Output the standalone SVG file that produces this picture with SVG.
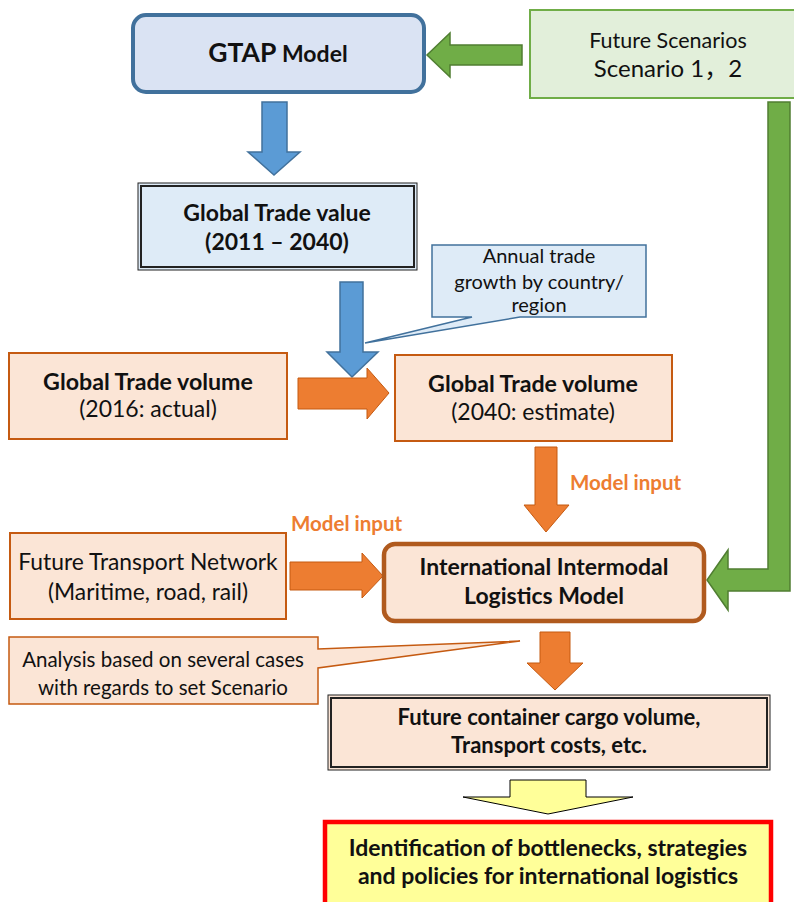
<svg xmlns="http://www.w3.org/2000/svg" width="794" height="902" viewBox="0 0 794 902">
<style>
text{font-family:Lato,"Open Sans","Liberation Sans","Noto Sans CJK JP",sans-serif;fill:#111;text-anchor:middle}
.b{font-weight:bold}
.blue{fill:#5B9BD5;stroke:#41719C;stroke-width:1.5}
.orange{fill:#ED7D31;stroke:#C55A11;stroke-width:1}
.green{fill:#70AD47;stroke:#507E32;stroke-width:1.5}
.peach{fill:#FBE5D6;stroke:#C55A11;stroke-width:2}
.lbl{fill:#ED7D31;font-weight:bold;font-size:20.5px;text-anchor:start}
</style>
<rect width="794" height="902" fill="#fff"/>

<g id="connectors">
  <path class="green" d="M522,45 L450,45 L450,33 L427,55 L450,77 L450,65 L522,65 Z"/>
  <path class="green" d="M768,102 L790,102 L790,591 L728,591 L728,610 L707,580 L728,550 L728,569 L768,569 Z"/>
  <path class="blue" d="M262,102 L287,102 L287,152 L300,152 L274,175 L248,152 L262,152 Z"/>
  <path class="blue" d="M340,282 L363,282 L363,352 L378,352 L352,377 L327,352 L340,352 Z"/>
  <path class="orange" d="M298,378 L367,378 L367,368 L389,393 L367,419 L367,409 L298,409 Z"/>
  <path class="orange" d="M535,447 L557,447 L557,505 L569,505 L546,532 L524,505 L535,505 Z"/>
  <path class="orange" d="M290,562 L362,562 L362,553 L383,576 L362,598 L362,590 L290,590 Z"/>
  <path class="orange" d="M540,632 L570,632 L570,663 L583,663 L555,690 L527,663 L540,663 Z"/>
  <path d="M510,780 L586,780 L586,797 L633,797 L548,814 L463,797 L510,797 Z" fill="#FFFF99" stroke="#000" stroke-width="1"/>
  <text class="lbl" x="570" y="490">Model input</text>
  <text class="lbl" x="291" y="531">Model input</text>
</g>

<g id="gtap">
  <rect x="133" y="15" width="291" height="77" rx="13" fill="#DAE3F3" stroke="#41719C" stroke-width="4"/>
  <text x="278" y="62" class="b"><tspan font-size="26.5">GTAP</tspan><tspan font-size="23"> Model</tspan></text>
</g>

<g id="future-scenarios">
  <rect x="530" y="10" width="266" height="88" fill="#E2EFDA" stroke="#70AD47" stroke-width="2"/>
  <text x="668" y="48" font-size="21.5">Future Scenarios</text>
  <text x="668" y="77" font-size="24">Scenario 1，2</text>
</g>

<g id="trade-value">
  <rect x="138" y="183" width="279" height="87" fill="#DEEBF7" stroke="#222" stroke-width="1"/>
  <rect x="141" y="186" width="273" height="81" fill="none" stroke="#222" stroke-width="2"/>
  <text x="277" y="221" font-size="23" class="b">Global Trade value</text>
  <text x="277" y="250" font-size="23" class="b">(2011 – 2040)</text>
</g>

<g id="annual-callout">
  <path d="M432,245 L646,245 L646,317 L520,317 L365,343 L472,317 L432,317 Z" fill="#DEEBF7" stroke="#41719C" stroke-width="1.5"/>
  <text x="539" y="263" font-size="20">Annual trade</text>
  <text x="539" y="289" font-size="20">growth by country/</text>
  <text x="539" y="312" font-size="20">region</text>
</g>

<g id="volume-2016">
  <rect class="peach" x="9" y="353" width="278" height="86"/>
  <text x="148" y="390" font-size="23.2" class="b">Global Trade volume</text>
  <text x="148" y="417" font-size="23">(2016: actual)</text>
</g>

<g id="volume-2040">
  <rect class="peach" x="395" y="355" width="277" height="86"/>
  <text x="533" y="392" font-size="23.2" class="b">Global Trade volume</text>
  <text x="533" y="420" font-size="23">(2040: estimate)</text>
</g>

<g id="transport-network">
  <rect class="peach" x="10" y="533" width="276" height="86"/>
  <text x="148" y="570" font-size="22.8">Future Transport Network</text>
  <text x="148" y="600" font-size="22.8">(Maritime, road, rail)</text>
</g>

<g id="logistics-model">
  <rect x="384" y="544" width="320" height="77" rx="11" fill="#FBE5D6" stroke="#B05A1E" stroke-width="4.5"/>
  <text x="544" y="575" font-size="23" class="b">International Intermodal</text>
  <text x="544" y="604" font-size="23" class="b">Logistics Model</text>
</g>

<g id="analysis-callout">
  <path d="M9,637 L318,637 L318,649 L520,641 L318,668 L318,704 L9,704 Z" fill="#FBE5D6" stroke="#C55A11" stroke-width="1.5"/>
  <text x="163" y="667" font-size="20.5">Analysis based on several cases</text>
  <text x="163" y="695" font-size="20.5">with regards to set Scenario</text>
</g>

<g id="cargo-volume">
  <rect x="328" y="695" width="442" height="75" fill="#FBE5D6" stroke="#222" stroke-width="1"/>
  <rect x="331" y="698" width="436" height="69" fill="none" stroke="#222" stroke-width="2"/>
  <text x="549" y="725" font-size="22" class="b">Future container cargo volume,</text>
  <text x="549" y="753" font-size="22" class="b">Transport costs, etc.</text>
</g>

<g id="bottlenecks">
  <rect x="325" y="822" width="446" height="90" fill="#FFFF99" stroke="#FF0000" stroke-width="4.5"/>
  <text x="548" y="856" font-size="23" class="b">Identification of bottlenecks, strategies</text>
  <text x="548" y="884" font-size="23" class="b">and policies for international logistics</text>
</g>
</svg>
